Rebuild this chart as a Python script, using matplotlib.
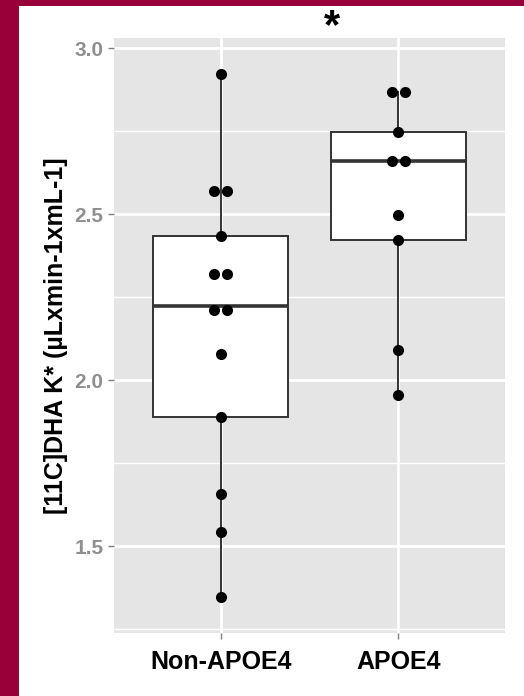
import numpy as np
import matplotlib
matplotlib.use("Agg")
import matplotlib.pyplot as plt
from matplotlib.patches import Rectangle

# ---- data ----
categories = ["Non-APOE4", "APOE4"]
non_apoe4 = [2.922, 2.571, 2.571, 2.435, 2.320, 2.320, 2.223, 2.197,
             2.080, 1.888, 1.658, 1.543, 1.345]
apoe4 = [2.869, 2.869, 2.747, 2.660, 2.660, 2.498, 2.421, 2.091, 1.955]
yticks = [1.5, 2.0, 2.5, 3.0]
ytick_labels = ["1.5", "2.0", "2.5", "3.0"]
ylabel = "[11C]DHA K* (\u00b5Lxmin-1xmL-1]"
star = "*"

W, H, DPI = 524, 696, 100
fig = plt.figure(figsize=(W / DPI, H / DPI), dpi=DPI)
fig.patch.set_facecolor("white")

# maroon frame (left and top)
maroon = "#99003A"
fig.patches.append(Rectangle((0, 0), 19 / W, 1, transform=fig.transFigure,
                             facecolor=maroon, edgecolor="none", zorder=0))
fig.patches.append(Rectangle((0, 1 - 6 / H), 1, 6 / H, transform=fig.transFigure,
                             facecolor=maroon, edgecolor="none", zorder=0))

ax = fig.add_axes([114 / W, 1 - 633 / H, (505 - 114) / W, (633 - 38) / H])
ax.set_facecolor("#E5E5E5")
for s in ax.spines.values():
    s.set_visible(False)

ax.set_xlim(0.4, 2.6)
ax.set_ylim(1.238, 3.031)

# grid
for y in [1.25, 1.75, 2.25, 2.75]:
    ax.axhline(y, color="white", lw=1.0, zorder=0.5)
for y in yticks:
    ax.axhline(y, color="white", lw=2.0, zorder=0.6)
positions = np.arange(1, len(categories) + 1)
for x in positions:
    ax.axvline(x, color="white", lw=2.0, zorder=0.6)

# boxplots
groups = [non_apoe4, apoe4]
edge = "#333333"
bp = ax.boxplot(groups, positions=positions, widths=0.76, whis=1.5,
                showfliers=False, showcaps=False, patch_artist=True,
                zorder=2,
                boxprops=dict(facecolor="white", edgecolor=edge, linewidth=1.4),
                whiskerprops=dict(color=edge, linewidth=1.4),
                medianprops=dict(color=edge, linewidth=2.6))

# dot plot (dot-density binning, centered stacking)
binwidth = 0.033
spacing = 0.073
for pos, vals in zip(positions, groups):
    v = np.sort(np.asarray(vals))
    bins = []
    cur = [v[0]]
    for val in v[1:]:
        if val - cur[0] <= binwidth:
            cur.append(val)
        else:
            bins.append(cur)
            cur = [val]
    bins.append(cur)
    xs, ys = [], []
    for b in bins:
        c = (min(b) + max(b)) / 2
        k = len(b)
        for i in range(k):
            xs.append(pos + (i - (k - 1) / 2) * spacing)
            ys.append(c)
    ax.scatter(xs, ys, s=64, color="black", zorder=3, linewidths=0)

# axes ticks / labels
ax.set_yticks(yticks)
ax.set_yticklabels(ytick_labels, fontfamily="Liberation Sans",
                   fontweight="bold", fontsize=15, color="#8F8F8F")
ax.set_xticks(positions)
ax.set_xticklabels(categories, fontfamily="Liberation Sans",
                   fontweight="bold", fontsize=18, color="black")
ax.tick_params(axis="both", length=4.5, width=1, color="#7F7F7F")
ax.tick_params(axis="y", pad=3)
ax.tick_params(axis="x", pad=8)

ax.set_ylabel(ylabel, fontfamily="Liberation Sans", fontweight="bold",
              fontsize=18, color="black", labelpad=5)

fig.text(332 / W, 1 - 27 / H, star, ha="center", va="center",
         fontfamily="Liberation Sans", fontweight="bold", fontsize=30,
         color="black")

fig.savefig("out.png", dpi=DPI)
